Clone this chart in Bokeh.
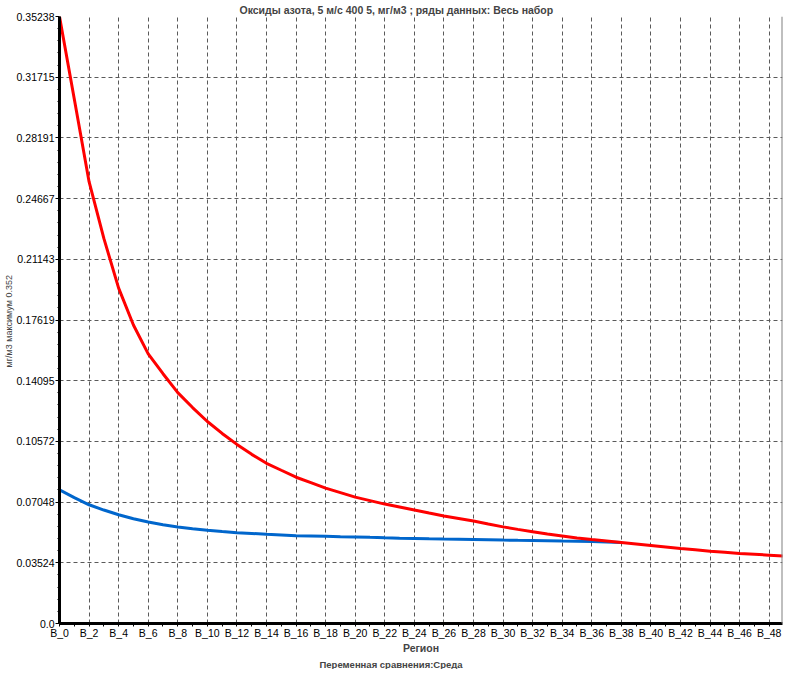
from bokeh.plotting import figure
from bokeh.models import FixedTicker, Span, Title, Range1d
from bokeh.embed import file_html
from bokeh.resources import INLINE

# ---- data ----
categories = [f"B_{i}" for i in range(50)]
red_values = [0.35238, 0.30443, 0.25649, 0.22356, 0.19468, 0.17330, 0.15655, 0.14500, 0.13402, 0.12536,
              0.11727, 0.11034, 0.10398, 0.09820, 0.09301, 0.08896, 0.08492, 0.08174, 0.07856, 0.07596,
              0.07336, 0.07134, 0.06932, 0.06759, 0.06586, 0.06412, 0.06239, 0.06094, 0.05945, 0.05775,
              0.05610, 0.05465, 0.05332, 0.05199, 0.05084, 0.04968, 0.04870, 0.04783, 0.04696, 0.04610,
              0.04523, 0.04437, 0.04350, 0.04275, 0.04200, 0.04130, 0.04061, 0.04015, 0.03969, 0.03911]
blue_values = [0.07758, 0.07308, 0.06892, 0.06586, 0.06314, 0.06083, 0.05892, 0.05736, 0.05603, 0.05499,
               0.05413, 0.05338, 0.05274, 0.05228, 0.05182, 0.05141, 0.05101, 0.05084, 0.05066, 0.05043,
               0.05026, 0.05000, 0.04975, 0.04955, 0.04939, 0.04918, 0.04900, 0.04888, 0.04875, 0.04858,
               0.04842, 0.04830, 0.04820, 0.04805, 0.04790, 0.04780, 0.04765, 0.04730, 0.04705]
y_tick_values = [0.0, 0.035238, 0.070476, 0.105714, 0.140952, 0.17619, 0.211428, 0.246666, 0.281904, 0.317142, 0.35238]
y_tick_labels = ["0.0", "0.03524", "0.07048", "0.10572", "0.14095", "0.17619", "0.21143", "0.24667", "0.28191", "0.31715", "0.35238"]
title_text = "Оксиды азота, 5 м/с 400 5,  мг/м3  ; ряды данных: Весь набор"
y_axis_text = "мг/м3  максимум 0.352"
x_axis_text = "Регион"
bottom_text = "Переменная сравнения:Среда"

FONT = "Liberation Sans"

x_red = list(range(len(red_values)))
x_blue = list(range(len(blue_values)))

X_END = 48.9
p = figure(width=784, height=669, output_backend="svg", toolbar_location=None,
           x_range=Range1d(0, X_END), y_range=Range1d(0, y_tick_values[-1]),
           min_border_left=0, min_border_right=2, min_border_top=0, min_border_bottom=0,
           background_fill_color="white", border_fill_color="white")
p.outline_line_color = None

# title
p.title.text = title_text
p.title.align = "left"
p.title.offset = 180
p.title.text_font = FONT
p.title.text_font_size = "10.5px"
p.title.text_font_style = "bold"
p.title.standoff = 2

# x axis
xa = p.xaxis[0]
xa.ticker = FixedTicker(ticks=[i for i in range(0, len(categories), 2)],
                        minor_ticks=[i for i in range(1, len(categories), 2)])
xa.major_label_overrides = {i: categories[i] for i in range(len(categories))}
xa.axis_line_width = 3
xa.axis_line_color = "black"
xa.major_tick_in = 0
xa.major_tick_out = 3
xa.minor_tick_in = 0
xa.minor_tick_out = 3
xa.major_tick_line_color = "black"
xa.minor_tick_line_color = "black"
xa.major_label_text_font = FONT
xa.major_label_text_font_size = "10.5px"
xa.major_label_text_color = "black"
xa.major_label_standoff = 0
xa.axis_label = x_axis_text
xa.axis_label_text_font = FONT
xa.axis_label_text_font_size = "10.5px"
xa.axis_label_text_font_style = "bold"
xa.axis_label_standoff = 0

# y axis
ya = p.yaxis[0]
minor_y = []
for k in range(len(y_tick_values) - 1):
    step = (y_tick_values[k + 1] - y_tick_values[k]) / 5
    minor_y += [y_tick_values[k] + step * j for j in range(1, 5)]
ya.ticker = FixedTicker(ticks=y_tick_values, minor_ticks=minor_y)
ya.major_label_overrides = {v: l for v, l in zip(y_tick_values, y_tick_labels)}
ya.axis_line_width = 3
ya.axis_line_color = "black"
ya.major_tick_in = 0
ya.major_tick_out = 4
ya.minor_tick_in = 0
ya.minor_tick_out = 2
ya.major_tick_line_color = "black"
ya.minor_tick_line_color = "black"
ya.major_label_text_font = FONT
ya.major_label_text_font_size = "10.5px"
ya.major_label_text_color = "black"
ya.major_label_standoff = 1
ya.axis_label = y_axis_text
ya.axis_label_text_font = FONT
ya.axis_label_text_font_size = "9px"
ya.axis_label_text_font_style = "normal"
ya.axis_label_standoff = 0

# grids
for g in (p.xgrid[0], p.ygrid[0]):
    g.grid_line_color = "#5a5a5a"
    g.grid_line_dash = "4 3"
    g.grid_line_width = 1

# lines
p.line(x_blue, blue_values, line_color="#0066CC", line_width=3)
p.line(x_red, red_values, line_color="#FF0000", line_width=3)

# right border
p.add_layout(Span(location=X_END, dimension="height", line_color="#808080", line_width=2))

# bottom caption
bt = Title(text=bottom_text, align="left", offset=260, text_font=FONT,
           text_font_size="9.5px", text_font_style="bold", standoff=0)
p.add_layout(bt, "below")

open("out.html", "w").write(file_html(p, INLINE))
